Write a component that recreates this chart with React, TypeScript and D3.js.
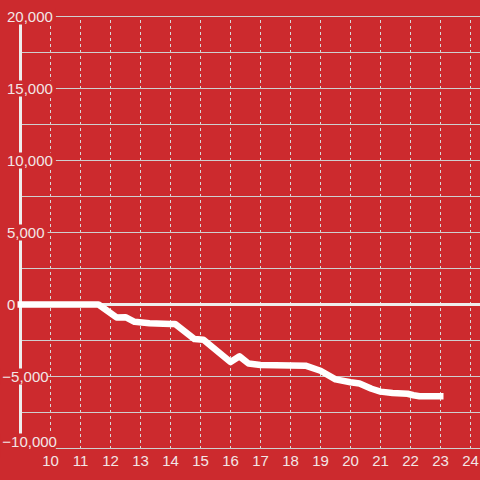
import React from "react";
import * as d3 from "d3";

const hours = [8.9, 11.6, 12.2, 12.5, 12.8, 13.3, 14.0, 14.15, 14.8, 15.1, 16.0, 16.3, 16.6, 17.0, 18.5, 19.0, 19.5, 20.0, 20.3, 20.7, 21.0, 21.4, 21.9, 22.1, 22.3, 23.1];
const values = [0, 0, -900, -880, -1200, -1300, -1350, -1350, -2400, -2450, -4000, -3600, -4100, -4200, -4250, -4600, -5200, -5400, -5480, -5850, -6050, -6150, -6200, -6300, -6370, -6370];
const yTicks = [20000, 15000, 10000, 5000, 0, -5000, -10000];
const yGrid = [20000, 17500, 15000, 12500, 10000, 7500, 5000, 2500, -2500, -5000, -7500, -10000];
const xTicks = [10, 11, 12, 13, 14, 15, 16, 17, 18, 19, 20, 21, 22, 23, 24];

const W = 480, H = 480;
const BG = "#cc2a2e";

export default function App() {
  const x = d3.scaleLinear().domain([10, 24]).range([50.5, 470.5]);
  const y = d3.scaleLinear().domain([-10000, 20000]).range([448.5, 16.5]);
  const fmt = d3.format(",");
  const pts = hours.map((h, i) => [h, values[i]] as [number, number]);
  const line = d3.line<[number, number]>().x(d => x(d[0])).y(d => y(d[1]));

  const labelBox = (v: number) => {
    const s = fmt(v);
    const neg = v < 0;
    const w = s.length * 8.34 - (s.includes(",") ? 4.17 : 0) - (neg ? 3.7 : 0);
    const start = neg ? 2.3 : 7;
    return { s, start, w };
  };

  return (
    <svg width={W} height={H} style={{ position: "absolute", left: 0, top: 0, fontFamily: "'Liberation Sans', Arial, sans-serif" }}>
      <rect x={0} y={0} width={W} height={H} fill={BG} />
      {xTicks.map(t => (
        <line key={"vx" + t} x1={x(t)} x2={x(t)} y1={20} y2={448} stroke="#d8d8d8" strokeWidth={1} strokeDasharray="3,3" />
      ))}
      {yGrid.map(v => (
        <line key={"hg" + v} x1={21} x2={W} y1={y(v)} y2={y(v)} stroke="#cfcfcf" strokeWidth={1} />
      ))}
      <line x1={20.5} x2={20.5} y1={16} y2={448} stroke="#eeeeee" strokeWidth={3} />
      <line x1={20} x2={W} y1={y(0)} y2={y(0)} stroke="#eeeeee" strokeWidth={3} />
      {yTicks.map(v => {
        const b = labelBox(v);
        const cy = v === -10000 ? y(v) - 7 : y(v);
        return (
          <g key={"yl" + v}>
            <rect x={b.start - 2} y={v === -10000 ? cy - 8 : cy - 8} width={b.w + 5} height={v === -10000 ? 24 : 16} fill={BG} />
            <text x={b.start} y={cy} dy="0.35em" fontSize={15} fill="#f2e6e6" textAnchor="start">{b.s}</text>
          </g>
        );
      })}
      {xTicks.map(t => (
        <text key={"xl" + t} x={x(t)} y={466} fontSize={15} fill="#f2e6e6" textAnchor="middle">{t}</text>
      ))}
      <path d={line(pts) || ""} fill="none" stroke="#ffffff" strokeWidth={6.5} strokeLinejoin="round" strokeLinecap="butt" />
    </svg>
  );
}
